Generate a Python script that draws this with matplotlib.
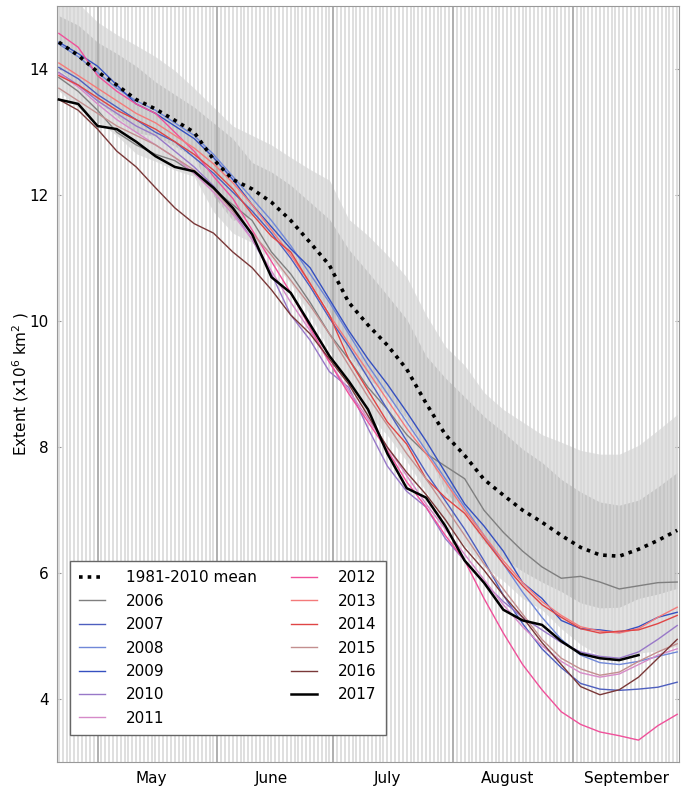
import matplotlib
matplotlib.use("Agg")
import matplotlib.pyplot as plt
import numpy as np

# day of year, sampled every 5 days (20 Apr - 28 Sep)
days = np.arange(111, 272, 5)

# 1981-2010 mean and spread (half-widths of the two shaded bands)
mean = [14.43, 14.22, 13.96, 13.75, 13.52, 13.37, 13.19, 13.0, 12.57, 12.25, 12.1,
        11.89, 11.6, 11.25, 10.89, 10.3, 9.94, 9.62, 9.24, 8.7, 8.2, 7.87, 7.49,
        7.24, 7.0, 6.81, 6.6, 6.41, 6.29, 6.27, 6.38, 6.52, 6.68]
sd_inner = [0.42, 0.48, 0.47, 0.5, 0.53, 0.43, 0.41, 0.4, 0.58, 0.65, 0.42, 0.48,
            0.56, 0.64, 0.73, 0.84, 0.84, 0.79, 0.79, 0.75, 0.9, 0.93, 1.0, 1.0,
            0.97, 0.95, 0.89, 0.88, 0.84, 0.81, 0.78, 0.85, 0.92]
sd_outer = [0.77, 0.83, 0.79, 0.8, 0.86, 0.83, 0.79, 0.7, 0.83, 0.85, 0.85, 0.91,
            1.0, 1.16, 1.35, 1.32, 1.42, 1.43, 1.46, 1.4, 1.4, 1.43, 1.38, 1.36,
            1.4, 1.39, 1.48, 1.54, 1.6, 1.62, 1.65, 1.75, 1.84]

years = ['2006', '2007', '2008', '2009', '2010', '2011',
         '2012', '2013', '2014', '2015', '2016']
colors = ['#7f7f7f', '#4e5fbf', '#7088d8', '#3550c0', '#9878c8', '#d68ac8',
          '#f0509a', '#f47a7a', '#e04545', '#c38f8f', '#7a3838']

extent = {
    '2006': [13.87, 13.65, 13.35, 13.0, 12.8, 12.65, 12.55, 12.35, 12.1, 11.85, 11.6,
             11.1, 10.75, 10.3, 9.8, 9.4, 8.95, 8.6, 8.2, 7.9, 7.7, 7.5, 7.0, 6.65,
             6.35, 6.1, 5.92, 5.95, 5.86, 5.75, 5.8, 5.85, 5.86],
    '2007': [14.03, 13.85, 13.6, 13.4, 13.2, 13.0, 12.85, 12.6, 12.35, 12.05, 11.75,
             11.4, 11.0, 10.55, 10.05, 9.6, 9.1, 8.6, 8.1, 7.6, 7.15, 6.7, 6.2, 5.65,
             5.2, 4.8, 4.5, 4.25, 4.16, 4.14, 4.16, 4.19, 4.27],
    '2008': [14.4, 14.2, 13.95, 13.7, 13.5, 13.35, 13.15, 12.95, 12.65, 12.3, 11.95,
             11.6, 11.2, 10.75, 10.3, 9.8, 9.3, 8.85, 8.4, 7.95, 7.5, 7.05, 6.6, 6.15,
             5.7, 5.3, 4.95, 4.7, 4.58, 4.55, 4.6, 4.68, 4.75],
    '2009': [14.43, 14.25, 14.05, 13.75, 13.45, 13.3, 13.1, 12.9, 12.6, 12.25, 11.85,
             11.5, 11.15, 10.85, 10.35, 9.85, 9.4, 9.0, 8.56, 8.1, 7.6, 7.1, 6.75, 6.35,
             5.85, 5.6, 5.25, 5.12, 5.1, 5.06, 5.15, 5.3, 5.38],
    '2010': [13.95, 13.75, 13.5, 13.3, 13.1, 12.95, 12.7, 12.45, 12.15, 11.75, 11.3,
             10.75, 10.1, 9.7, 9.2, 8.95, 8.3, 7.7, 7.3, 7.05, 6.55, 6.2, 5.85, 5.55,
             5.3, 5.1, 4.9, 4.75, 4.68, 4.65, 4.75, 4.95, 5.17],
    '2011': [13.93, 13.72, 13.45, 13.2, 13.0, 12.8, 12.6, 12.35, 12.05, 11.7, 11.3,
             10.8, 10.3, 9.85, 9.35, 8.9, 8.45, 8.0, 7.55, 7.1, 6.7, 6.3, 5.9, 5.5,
             5.15, 4.85, 4.6, 4.42, 4.35, 4.4, 4.55, 4.7, 4.8],
    '2012': [14.57, 14.35, 13.9, 13.65, 13.45, 13.3, 13.0, 12.7, 12.3, 11.95, 11.45,
             10.95, 10.45, 9.9, 9.35, 8.85, 8.4, 7.95, 7.45, 7.05, 6.6, 6.2, 5.6, 5.05,
             4.55, 4.15, 3.8, 3.6, 3.48, 3.42, 3.35, 3.58, 3.76],
    '2013': [14.1, 13.9, 13.7, 13.5, 13.3, 13.15, 12.95, 12.75, 12.5, 12.2, 11.85,
             11.45, 11.05, 10.6, 10.1, 9.65, 9.2, 8.75, 8.3, 7.9, 7.45, 7.0, 6.6, 6.2,
             5.85, 5.55, 5.33, 5.15, 5.08, 5.05, 5.12, 5.3, 5.46],
    '2014': [13.9, 13.75, 13.55, 13.35, 13.2, 13.05, 12.85, 12.65, 12.4, 12.1, 11.7,
             11.35, 11.1, 10.6, 10.1, 9.4, 8.9, 8.4, 8.05, 7.5, 7.2, 6.95, 6.55, 6.15,
             5.8, 5.5, 5.3, 5.12, 5.05, 5.08, 5.1, 5.2, 5.33],
    '2015': [13.7, 13.5, 13.3, 13.1, 12.95, 12.8, 12.6, 12.4, 12.1, 11.75, 11.4,
             11.05, 10.65, 10.25, 9.8, 9.3, 8.8, 8.35, 7.9, 7.5, 7.05, 6.6, 6.15, 5.75,
             5.35, 4.95, 4.65, 4.48, 4.38, 4.43, 4.6, 4.75, 4.88],
    '2016': [13.52, 13.35, 13.05, 12.7, 12.45, 12.12, 11.8, 11.55, 11.4, 11.1, 10.85,
             10.5, 10.1, 9.8, 9.4, 9.0, 8.5, 8.0, 7.6, 7.25, 6.85, 6.4, 6.05, 5.65,
             5.3, 4.9, 4.55, 4.2, 4.07, 4.15, 4.35, 4.65, 4.95],
}

days_2017 = np.arange(111, 262, 5)
extent_2017 = [13.52, 13.45, 13.1, 13.05, 12.85, 12.62, 12.45, 12.38, 12.12, 11.8,
               11.38, 10.7, 10.45, 9.95, 9.45, 9.05, 8.6, 7.9, 7.35, 7.2, 6.75, 6.2,
               5.85, 5.42, 5.25, 5.18, 4.92, 4.72, 4.65, 4.62, 4.7]

month_pos = [135, 166, 196, 227, 258]
month_names = ['May', 'June', 'July', 'August', 'September']
month_starts = [121, 152, 182, 213, 244]

fig = plt.figure(figsize=(6.86, 7.89), dpi=100)
ax = fig.add_axes([0.083, 0.034, 0.907, 0.958])

mean = np.array(mean)
sd_inner = np.array(sd_inner)
sd_outer = np.array(sd_outer)
ax.fill_between(days, mean - sd_outer, mean + sd_outer, color='#e2e2e2', lw=0, zorder=1)
ax.fill_between(days, mean - sd_inner, mean + sd_inner, color='#c6c6c6', lw=0, zorder=1.1)

# daily grid lines, darker at month boundaries
ax.vlines(np.arange(111, 272), 2, 16, color='#d6d6d6', lw=1.1, zorder=2)
ax.vlines(month_starts, 2, 16, color='#a8a8a8', lw=1.2, zorder=2.1)

for yr, c in zip(years, colors):
    ax.plot(days, extent[yr], color=c, lw=1.0, label=yr, zorder=3)
ax.plot(days_2017, extent_2017, color='black', lw=1.8, label='2017', zorder=5)
ax.plot(days, mean, color='black', lw=2.6, ls=(0, (1, 1.4)),
        label='1981-2010 mean', zorder=4)

ax.set_xlim(110.5, 271.5)
ax.set_ylim(3, 15)
ax.set_yticks([4, 6, 8, 10, 12, 14])
ax.set_xticks(month_pos)
ax.set_xticklabels(month_names)
ax.tick_params(axis='x', length=0, pad=6, labelsize=11)
ax.tick_params(axis='y', length=3, direction='in', right=True, labelsize=11,
               color='#999999', pad=6)
for s in ax.spines.values():
    s.set_color('#999999')
ax.set_ylabel(r'Extent (x10$^6$ km$^2$ )', fontsize=11)
ax.yaxis.set_label_coords(-0.042, 0.5)

handles, labels = ax.get_legend_handles_labels()
order = [labels.index('1981-2010 mean')] + [labels.index(y) for y in years] + [labels.index('2017')]
leg = ax.legend([handles[i] for i in order], [labels[i] for i in order],
                loc='lower left', ncol=2, fontsize=11, frameon=True, fancybox=False,
                edgecolor='#666666', framealpha=1, handlelength=1.7,
                handletextpad=1.4, columnspacing=2.2, labelspacing=0.55,
                bbox_to_anchor=(0.008, 0.026), borderpad=0.6)
leg.get_frame().set_linewidth(1.0)

fig.savefig('out.png', dpi=100)
